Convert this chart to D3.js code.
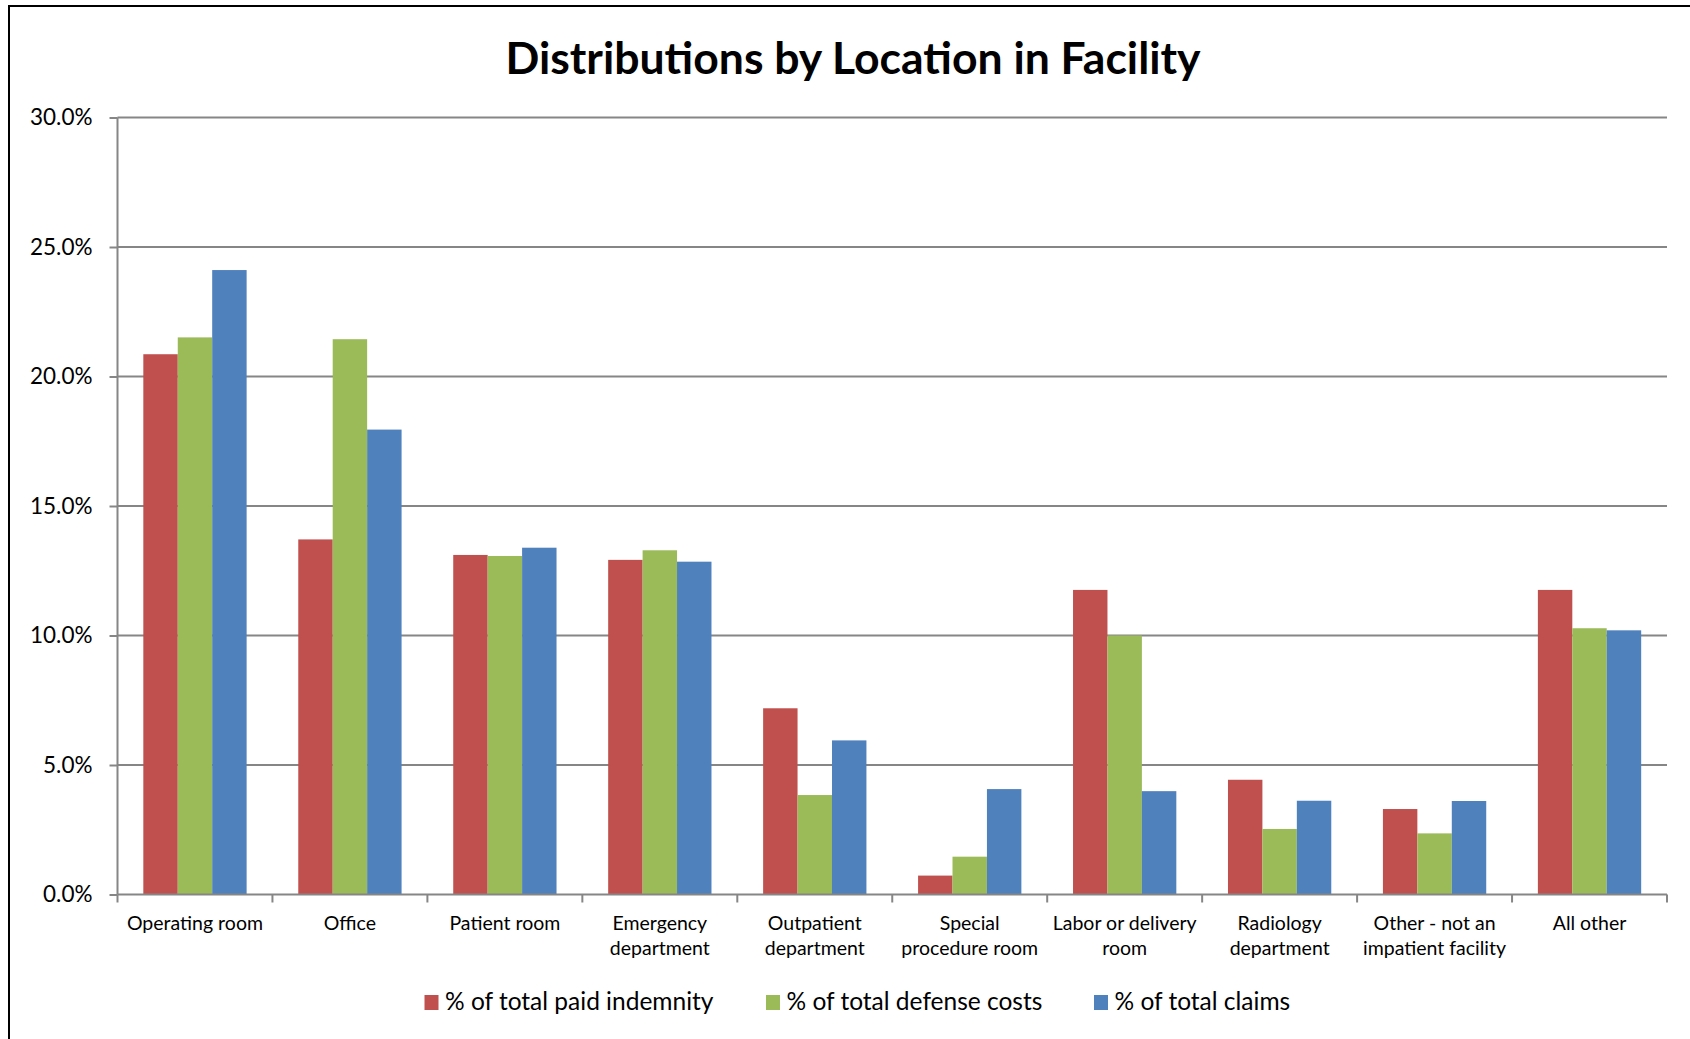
<!DOCTYPE html>
<html>
<head>
<meta charset="utf-8">
<script src="https://cdn.jsdelivr.net/npm/d3@7"></script>
<style>
  body { margin: 0; background: #fff; }
  svg { display: block; font-family: Lato, "Open Sans", sans-serif; }
</style>
</head>
<body>
<div id="chart"></div>
<script>
// locations, two-line labels split on \n
var categories = [
  'Operating room', 'Office', 'Patient room', 'Emergency\ndepartment',
  'Outpatient\ndepartment', 'Special\nprocedure room', 'Labor or delivery\nroom',
  'Radiology\ndepartment', 'Other - not an\nimpatient facility', 'All other'
]

var seriesNames = ['% of total paid indemnity', '% of total defense costs', '% of total claims']

var indemnity = [20.86, 13.71, 13.11, 12.92, 7.19, 0.73, 11.76, 4.43, 3.30, 11.76]
var defense   = [21.51, 21.44, 13.07, 13.29, 3.84, 1.46, 10.0, 2.53, 2.36, 10.28]
var claims    = [24.11, 17.95, 13.39, 12.85, 5.95, 4.07, 3.99, 3.62, 3.61, 10.20]

var yTicks = [0, 5, 10, 15, 20, 25, 30]

var colors = ['#C0504D', '#9BBB59', '#4F81BD']

var W = 1690, H = 1039
var margin = {left: 117.5, right: 23, top: 117.5, bottom: 144.5}
var width = W - margin.left - margin.right
var height = H - margin.top - margin.bottom

var svg = d3.select('#chart').append('svg')
  .attr('width', W).attr('height', H)

// outer frame, runs off the right and bottom edges
svg.append('rect')
  .attr('x', 9).attr('y', 6).attr('width', W).attr('height', H)
  .attr('fill', 'none').attr('stroke', '#000').attr('stroke-width', 2)

svg.append('text')
  .attr('x', 853).attr('y', 74)
  .attr('text-anchor', 'middle')
  .style('font-weight', 'bold').style('font-size', '44.5px')
  .text('Distributions by Location in Facility')

var g = svg.append('g').attr('transform', 'translate(' + margin.left + ',' + margin.top + ')')

var x = d3.scaleBand().domain(d3.range(categories.length)).range([0, width]).paddingInner(0).paddingOuter(0)
var y = d3.scaleLinear().domain([0, 30]).range([height, 0])

// bar width: excel gap width 150%
var bw = x.bandwidth() / 4.5
var xs = d3.scaleBand().domain([0, 1, 2]).range([bw * 0.75, bw * 3.75])

// y axis with gridlines
var yAxis = d3.axisLeft(y).tickValues(yTicks).tickSize(8).tickPadding(17)
  .tickFormat(function(d){ return d3.format('.1f')(d) + '%' })
var yg = g.append('g').call(yAxis)
yg.select('.domain').remove()
yg.selectAll('line').attr('stroke', '#868686').attr('stroke-width', 2)
yg.selectAll('text').style('font-size', '22.5px').style('font-family', 'Lato').attr('fill', '#000')

g.append('g').selectAll('line.grid')
  .data(yTicks.filter(function(d){ return d > 0 }))
  .enter().append('line')
  .attr('x1', 0).attr('x2', width)
  .attr('y1', function(d){ return y(d) }).attr('y2', function(d){ return y(d) })
  .attr('stroke', '#868686').attr('stroke-width', 2)

// bars
var series = [indemnity, defense, claims]
series.forEach(function(vals, s){
  g.append('g').selectAll('rect')
    .data(vals)
    .enter().append('rect')
    .attr('x', function(d, i){ return x(i) + xs(s) })
    .attr('width', xs.bandwidth())
    .attr('y', function(d){ return y(d) })
    .attr('height', function(d){ return height - y(d) })
    .attr('fill', colors[s])
})

// vertical axis line
g.append('line').attr('x1', 0).attr('x2', 0).attr('y1', 0).attr('y2', height)
  .attr('stroke', '#868686').attr('stroke-width', 2)

// x axis line and ticks between categories
g.append('line').attr('x1', 0).attr('x2', width).attr('y1', height).attr('y2', height)
  .attr('stroke', '#868686').attr('stroke-width', 2)
var bounds = d3.range(categories.length + 1).map(function(i){
  return i < categories.length ? x(i) : width
})
g.append('g').selectAll('line').data(bounds).enter().append('line')
  .attr('x1', function(d){ return d }).attr('x2', function(d){ return d })
  .attr('y1', height).attr('y2', height + 8)
  .attr('stroke', '#868686').attr('stroke-width', 2)

// category labels
var lab = g.append('g').selectAll('text').data(categories).enter().append('text')
  .attr('x', function(d, i){ return x(i) + x.bandwidth() / 2 })
  .attr('y', height + 35)
  .attr('text-anchor', 'middle')
  .style('font-size', '19.5px')
lab.selectAll('tspan')
  .data(function(d){ return d.split('\n') })
  .enter().append('tspan')
  .attr('x', function(){ return d3.select(this.parentNode).attr('x') })
  .attr('dy', function(d, i){ return i ? 25.5 : 0 })
  .text(function(d){ return d })

// legend
var legendX = [424.5, 766, 1094]
var leg = svg.append('g').selectAll('g').data(seriesNames).enter().append('g')
  .attr('transform', function(d, i){ return 'translate(' + legendX[i] + ',995)' })
leg.append('rect').attr('width', 14).attr('height', 15)
  .attr('fill', function(d, i){ return colors[i] })
leg.append('text').attr('x', 20.5).attr('y', 15)
  .style('font-size', '24.5px')
  .text(function(d){ return d })
</script>
</body>
</html>
